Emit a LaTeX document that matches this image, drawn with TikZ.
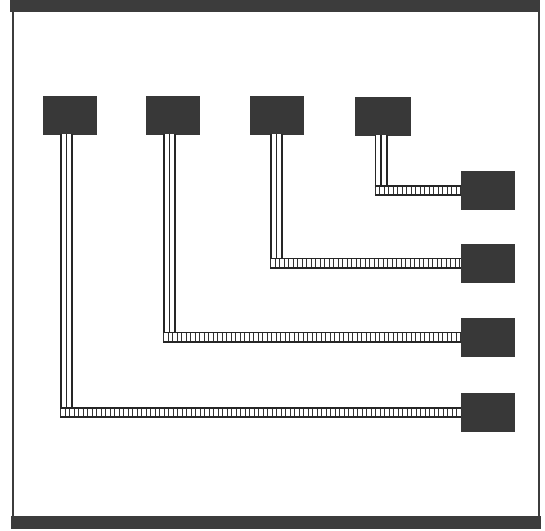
\documentclass[tikz,border=0pt]{standalone}
\usetikzlibrary{calc}
\definecolor{boxgray}{HTML}{383838}
\definecolor{framegray}{HTML}{3C3C3C}
\tikzset{
  unitbox/.style={draw=boxgray, fill=boxgray, minimum width=53pt, minimum height=38pt, inner sep=0pt},
  vcable/.style={line width=13pt, draw=black!85, line cap=butt,
    postaction={draw=white, line width=9.4pt},
    postaction={draw=black!85, line width=1.8pt}},
  hcable/.style={line width=11pt, draw=black!85, line cap=butt,
    postaction={draw=white, line width=7.6pt},
    postaction={draw=black!80, line width=7.6pt, dash pattern=on 1.4pt off 3.1pt}}
}
\begin{document}
\begin{tikzpicture}[x=1pt,y=-1pt]
\useasboundingbox (0,0) rectangle (545,530);
% frame
\fill[framegray] (10,0) rectangle (539,11.5);
\fill[framegray] (11,516) rectangle (541,529);
\draw[framegray, line width=2pt] (13,0) -- (13,529);
\draw[framegray, line width=2pt] (539,0) -- (539,529);
% boxes
\node[unitbox] (b1) at (69.5,115) {};
\node[unitbox] (b2) at (172.5,115) {};
\node[unitbox] (b3) at (277,115) {};
\node[unitbox, minimum width=55pt] (b4) at (382.5,116) {};
\node[unitbox] (b5) at (487.5,190.5) {};
\node[unitbox] (b6) at (488,263) {};
\node[unitbox] (b7) at (488,337) {};
\node[unitbox] (b8) at (487.5,412.5) {};
% corner coordinates
\coordinate (c1) at ($(b1.south)+(-3,0)$);
\coordinate (c2) at ($(b2.south)+(-3,0)$);
\coordinate (c3) at ($(b3.south)+(-0.5,0)$);
\coordinate (c4) at ($(b4.south)+(-1.5,0)$);
% vertical cables
\draw[vcable] (c1) -- ($(c1 |- b8.west)+(0,5.5)$);
\draw[vcable] (c2) -- ($(c2 |- b7.west)+(0,5.5)$);
\draw[vcable] (c3) -- ($(c3 |- b6.west)+(0,5.5)$);
\draw[vcable] (c4) -- ($(c4 |- b5.west)+(0,5.5)$);
% horizontal cables
\draw[hcable] ($(c1 |- b8.west)+(-6.5,0)$) -- (b8.west);
\draw[hcable] ($(c2 |- b7.west)+(-6.5,0)$) -- (b7.west);
\draw[hcable] ($(c3 |- b6.west)+(-6.5,0)$) -- (b6.west);
\draw[hcable] ($(c4 |- b5.west)+(-6.5,0)$) -- (b5.west);
\end{tikzpicture}
\end{document}
